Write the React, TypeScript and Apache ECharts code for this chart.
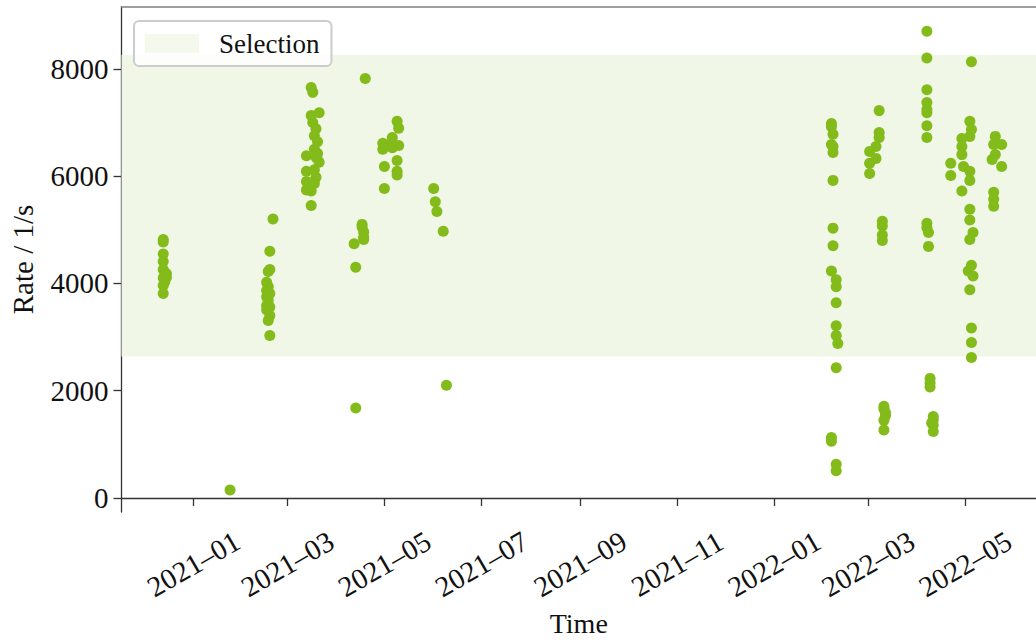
import React, { useEffect, useRef } from "react";
import * as echarts from "echarts";

// Measured count rates, one [date, rate in 1/s] pair per measurement
const runsDec2020: [string, number][] = [
  ["2020-12-13", 4820], ["2020-12-13", 4770], ["2020-12-13", 4550], ["2020-12-13", 4410],
  ["2020-12-13", 4260], ["2020-12-14", 4200], ["2020-12-15", 4180], ["2020-12-15", 4110],
  ["2020-12-13", 4100], ["2020-12-14", 4030], ["2020-12-13", 3960], ["2020-12-13", 3810],
];
const runsJan2021: [string, number][] = [["2021-01-24", 150]];
const runsFeb2021: [string, number][] = [
  ["2021-02-20", 5200], ["2021-02-18", 4600], ["2021-02-18", 4260], ["2021-02-17", 4220],
  ["2021-02-16", 4020], ["2021-02-17", 3940], ["2021-02-16", 3870], ["2021-02-18", 3810],
  ["2021-02-16", 3750], ["2021-02-17", 3680], ["2021-02-16", 3590], ["2021-02-18", 3560],
  ["2021-02-16", 3510], ["2021-02-18", 3400], ["2021-02-17", 3310], ["2021-02-18", 3030],
];
const runsMar2021: [string, number][] = [
  ["2021-03-16", 7650], ["2021-03-17", 7560], ["2021-03-21", 7180], ["2021-03-16", 7130],
  ["2021-03-17", 7000], ["2021-03-19", 6880], ["2021-03-18", 6750], ["2021-03-20", 6640],
  ["2021-03-18", 6500], ["2021-03-20", 6420], ["2021-03-13", 6380], ["2021-03-19", 6350],
  ["2021-03-21", 6260], ["2021-03-18", 6120], ["2021-03-13", 6090], ["2021-03-19", 5980],
  ["2021-03-13", 5900], ["2021-03-18", 5860], ["2021-03-13", 5740], ["2021-03-16", 5720],
  ["2021-03-16", 5450],
];
const runsApr2021: [string, number][] = [
  ["2021-04-19", 7820], ["2021-04-17", 5100], ["2021-04-17", 5050], ["2021-04-18", 4960],
  ["2021-04-18", 4860], ["2021-04-18", 4820], ["2021-04-12", 4740], ["2021-04-13", 4300],
  ["2021-04-13", 1680],
];
const runsMay2021: [string, number][] = [
  ["2021-05-09", 7020], ["2021-05-10", 6890], ["2021-05-06", 6720], ["2021-04-30", 6610],
  ["2021-05-05", 6590], ["2021-05-10", 6570], ["2021-05-06", 6530], ["2021-04-30", 6500],
  ["2021-05-09", 6290], ["2021-05-01", 6180], ["2021-05-09", 6090], ["2021-05-09", 6020],
  ["2021-05-01", 5770],
];
const runsJun2021: [string, number][] = [
  ["2021-06-01", 5770], ["2021-06-02", 5520], ["2021-06-03", 5340], ["2021-06-07", 4970],
  ["2021-06-09", 2100],
];
const runsFeb2022: [string, number][] = [
  ["2022-02-06", 6980], ["2022-02-06", 6920], ["2022-02-07", 6780], ["2022-02-06", 6590],
  ["2022-02-07", 6550], ["2022-02-07", 6440], ["2022-02-07", 5920], ["2022-02-07", 5030],
  ["2022-02-07", 4700], ["2022-02-06", 4230], ["2022-02-09", 4070], ["2022-02-09", 3940],
  ["2022-02-09", 3640], ["2022-02-09", 3210], ["2022-02-09", 3030], ["2022-02-10", 2880],
  ["2022-02-09", 2430], ["2022-02-06", 1130], ["2022-02-06", 1060], ["2022-02-09", 630],
  ["2022-02-09", 510],
];
const runsMar2022: [string, number][] = [
  ["2022-03-08", 7220], ["2022-03-08", 6810], ["2022-03-08", 6720], ["2022-03-06", 6550],
  ["2022-03-02", 6460], ["2022-03-06", 6330], ["2022-03-02", 6240], ["2022-03-02", 6050],
  ["2022-03-10", 5160], ["2022-03-10", 5070], ["2022-03-10", 4900], ["2022-03-10", 4800],
  ["2022-03-11", 1710], ["2022-03-11", 1660], ["2022-03-12", 1590], ["2022-03-12", 1540],
  ["2022-03-11", 1450], ["2022-03-11", 1270],
];
const runsApr2022: [string, number][] = [
  ["2022-04-07", 8700], ["2022-04-07", 8200], ["2022-04-07", 7610], ["2022-04-07", 7370],
  ["2022-04-07", 7240], ["2022-04-07", 7180], ["2022-04-07", 6940], ["2022-04-07", 6720],
  ["2022-04-07", 5120], ["2022-04-07", 5040], ["2022-04-08", 4950], ["2022-04-08", 4690],
  ["2022-04-09", 2230], ["2022-04-09", 2150], ["2022-04-09", 2070], ["2022-04-11", 1520],
  ["2022-04-11", 1460], ["2022-04-10", 1400], ["2022-04-11", 1360], ["2022-04-11", 1240],
];
const runsLateApr2022: [string, number][] = [
  ["2022-05-05", 8130], ["2022-05-04", 7020], ["2022-05-05", 6870], ["2022-05-04", 6740],
  ["2022-04-29", 6700], ["2022-04-29", 6550], ["2022-04-29", 6400], ["2022-04-22", 6240],
  ["2022-04-30", 6180], ["2022-05-04", 6090], ["2022-04-22", 6010], ["2022-05-04", 5920],
  ["2022-04-29", 5720], ["2022-05-04", 5380], ["2022-05-04", 5180], ["2022-05-06", 4950],
  ["2022-05-04", 4820], ["2022-05-05", 4340], ["2022-05-03", 4230], ["2022-05-06", 4140],
  ["2022-05-04", 3880], ["2022-05-05", 3170], ["2022-05-05", 2900], ["2022-05-05", 2620],
];
const runsMay2022: [string, number][] = [
  ["2022-05-20", 6740], ["2022-05-19", 6590], ["2022-05-24", 6590], ["2022-05-20", 6400],
  ["2022-05-18", 6310], ["2022-05-24", 6180], ["2022-05-19", 5700], ["2022-05-19", 5570],
  ["2022-05-19", 5440],
];

// Accepted rate window, 1/s
const selectionLow = 2640;
const selectionHigh = 8260;

// Axis ticks
const monthTicks = [
  "2021-01-01", "2021-03-01", "2021-05-01", "2021-07-01", "2021-09-01",
  "2021-11-01", "2022-01-01", "2022-03-01", "2022-05-01",
];
const rateTicks = [0, 2000, 4000, 6000, 8000];

// Axis extents
const timeStart = "2020-11-16T18:30:00Z";
const timeEnd = "2022-06-14T14:00:00Z";
const rateMin = -260;
const rateMax = 9151;

const FONT = "'Liberation Serif', 'DejaVu Serif', serif";
const POINT_COLOR = "#83BB1A";
const BAND_COLOR = "#F0F7E7";

const toTs = (d: string) => Date.parse(d.length === 10 ? d + "T00:00:00Z" : d);

const allRuns = [
  runsDec2020, runsJan2021, runsFeb2021, runsMar2021, runsApr2021, runsMay2021,
  runsJun2021, runsFeb2022, runsMar2022, runsApr2022, runsLateApr2022, runsMay2022,
];

export default function App() {
  const ref = useRef<HTMLDivElement>(null);

  useEffect(() => {
    document.body.style.margin = "0";
    if (!ref.current) return;
    const chart = echarts.init(ref.current, undefined, { renderer: "svg" });

    const points = allRuns.flat().map(([d, v]) => [toTs(d), v]);
    const tickTs = monthTicks.map(toTs);

    const fmtMonth = (v: number) => {
      const dt = new Date(v);
      const m = dt.getUTCMonth() + 1;
      return `${dt.getUTCFullYear()}–${m < 10 ? "0" + m : m}`;
    };

    chart.setOption({
      animation: false,
      grid: { left: 121, top: 7, right: 0, bottom: 128, containLabel: false },
      legend: {
        left: 134,
        top: 21,
        orient: "horizontal",
        padding: [9, 12, 9, 11],
        itemWidth: 54,
        itemHeight: 19,
        borderColor: "#cccccc",
        borderWidth: 2,
        borderRadius: 5,
        backgroundColor: "rgba(255,255,255,0.85)",
        data: [{ name: "Selection", icon: "rect" }],
        textStyle: {
          fontFamily: FONT,
          fontSize: 27,
          color: "#111",
          padding: [0, 0, 0, 15],
        },
        selectedMode: false,
      },
      xAxis: [
        {
          type: "value",
          min: toTs(timeStart),
          max: toTs(timeEnd),
          name: "Time",
          nameLocation: "middle",
          nameGap: 111,
          nameTextStyle: { fontFamily: FONT, fontSize: 28, color: "#111", verticalAlign: "middle" },
          splitLine: { show: false },
          axisLine: { show: true, lineStyle: { color: "#333", width: 1.3 } },
          axisTick: {
            show: true,
            inside: false,
            length: 8,
            customValues: tickTs,
            lineStyle: { color: "#333", width: 1.3 },
          },
          axisLabel: {
            customValues: tickTs,
            rotate: 30,
            align: "center",
            verticalAlign: "middle",
            margin: 52,
            fontFamily: FONT,
            fontSize: 29,
            color: "#111",
            formatter: (v: number) => fmtMonth(v),
          },
        },
        {
          type: "value",
          position: "top",
          min: toTs(timeStart),
          max: toTs(timeEnd),
          axisLine: { show: true, lineStyle: { color: "#7f7f7f", width: 1.5 } },
          axisTick: { show: false },
          axisLabel: { show: false },
          splitLine: { show: false },
        },
      ],
      yAxis: {
        type: "value",
        min: rateMin,
        max: rateMax,
        name: "Rate / 1/s",
        nameLocation: "middle",
        nameGap: 99,
        nameRotate: 90,
        nameTextStyle: { fontFamily: FONT, fontSize: 29, color: "#111", verticalAlign: "middle" },
        splitLine: { show: false },
        axisLine: { show: true, lineStyle: { color: "#333", width: 1.3 } },
        axisTick: {
          show: true,
          inside: false,
          length: 8,
          customValues: rateTicks,
          lineStyle: { color: "#333", width: 1.3 },
        },
        axisLabel: {
          customValues: rateTicks,
          margin: 13,
          fontFamily: FONT,
          fontSize: 29,
          color: "#111",
          verticalAlign: "middle",
          formatter: (v: number) => String(v),
        },
      },
      series: [
        {
          name: "Selection",
          type: "scatter",
          data: [],
          z: 1,
          itemStyle: { color: BAND_COLOR },
          markArea: {
            silent: true,
            itemStyle: { color: BAND_COLOR, borderWidth: 0 },
            data: [[{ yAxis: selectionLow }, { yAxis: selectionHigh }]],
          },
        },
        {
          name: "Rate",
          type: "scatter",
          z: 3,
          symbol: "circle",
          symbolSize: 11,
          itemStyle: { color: POINT_COLOR, opacity: 1 },
          data: points,
        },
      ],
    });

    return () => chart.dispose();
  }, []);

  return <div ref={ref} style={{ width: 1036, height: 642 }} />;
}
